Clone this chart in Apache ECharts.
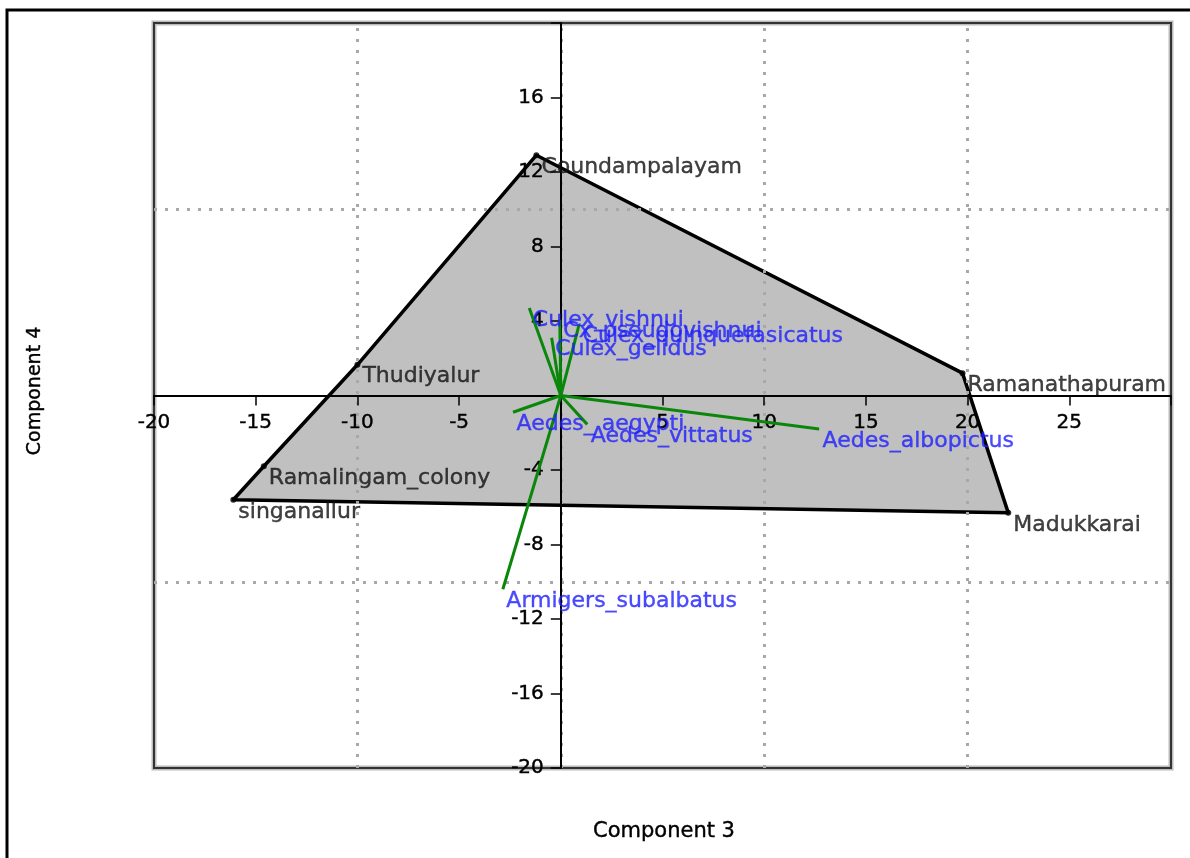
<!DOCTYPE html>
<html>
<head>
<meta charset="utf-8">
<script src="https://cdn.jsdelivr.net/npm/echarts@6/dist/echarts.min.js"></script>
<style>
html,body{margin:0;padding:0;background:#fff;}
#c{width:1190px;height:858px;}
</style>
</head>
<body>
<div id="c"></div>
<script>
// Sites (hull vertices, in drawing order)
const sites = ['Coundampalayam', 'Ramanathapuram', 'Madukkarai', 'singanallur', 'Ramalingam_colony', 'Thudiyalur'];
const siteX = [-1.2, 19.75, 22.0, -16.1, -14.6, -10.0];
const siteY = [12.9, 1.2, -6.3, -5.6, -3.8, 1.65];

// Species vectors (biplot arrows from origin)
const species = ['Culex_vishnui', 'Cx_pseudovishnui', 'Culex_quinquefasicatus', 'Culex_gelidus', 'Aedes_ aegypti', 'Aedes_vittatus', 'Aedes_albopictus', 'Armigers_subalbatus'];
const speciesX = [-1.55, -0.05, 0.9, -0.45, -2.35, 1.3, 12.7, -2.85];
const speciesY = [4.7, 4.07, 3.8, 3.1, -0.9, -1.55, -1.8, -10.4];

// Axis tick labels shown
const xTickLabels = [-20, -15, -10, -5, 5, 10, 15, 20, 25];
const yTickLabels = [16, 12, 8, 4, -4, -8, -12, -16, -20];
// Dotted grid lines
const xGridLines = [-10, 0, 10, 20];
const yGridLines = [-10, 10];

const X_MIN = -20, X_MAX = 30, Y_MIN = -20, Y_MAX = 20;
const GRID = {left: 154, right: 19, top: 23, bottom: 90};
const W = 1190, H = 858;
const gridW = W - GRID.left - GRID.right;
const gridH = H - GRID.top - GRID.bottom;
// place the axes through the origin (pixel offset from the grid edge)
const xAxisOffset = -((0 - Y_MIN) / (Y_MAX - Y_MIN)) * gridH;
const yAxisOffset = -((0 - X_MIN) / (X_MAX - X_MIN)) * gridW;

const FONT = 'DejaVu Sans';
const chart = echarts.init(document.getElementById('c'), null, {renderer: 'canvas'});

const lineSeries = species.map((s, i) => ({
  type: 'line',
  name: s,
  data: [[0, 0], [speciesX[i], speciesY[i]]],
  symbol: 'none',
  z: 4,
  silent: true,
  lineStyle: {color: '#0a870a', width: 3},
  animation: false
}));

const option = {
  animation: false,
  textStyle: {fontFamily: FONT},
  grid: Object.assign({show: true, borderColor: '#333', borderWidth: 2, backgroundColor: 'transparent'}, GRID),
  xAxis: {
    type: 'value', min: X_MIN, max: X_MAX, interval: 5, z: 3,
    position: 'bottom', offset: xAxisOffset,
    axisLine: {onZero: false, lineStyle: {color: '#000', width: 2}},
    axisTick: {show: true, length: 10, lineStyle: {color: '#000', width: 1.5}},
    axisLabel: {
      margin: 17, fontSize: 20, color: '#000', fontFamily: FONT,
      textBorderColor: '#000', textBorderWidth: 0.4,
      formatter: v => xTickLabels.includes(v) ? String(v) : ''
    },
    splitLine: {show: false}
  },
  yAxis: {
    type: 'value', min: Y_MIN, max: Y_MAX, interval: 4, z: 3,
    position: 'left', offset: yAxisOffset,
    axisLine: {onZero: false, lineStyle: {color: '#000', width: 2}},
    axisTick: {show: true, length: 10, lineStyle: {color: '#000', width: 1.5}},
    axisLabel: {
      margin: 17, fontSize: 20, color: '#000', fontFamily: FONT,
      textBorderColor: '#000', textBorderWidth: 0.4,
      formatter: v => yTickLabels.includes(v) ? String(v) : ''
    },
    splitLine: {show: false}
  },
  graphic: [
    {type: 'rect', z: -10, shape: {x: 7, y: 10, width: 1400, height: 1000}, style: {fill: 'none', stroke: '#000', lineWidth: 3}},
    {type: 'rect', z: -9, shape: {x: 154, y: 23, width: 1017, height: 745}, style: {fill: 'none', stroke: '#bbb', lineWidth: 5}},
    {type: 'text', z: 10, x: 664, y: 832, style: {text: 'Component 3', font: '21px "DejaVu Sans"', fill: '#000', stroke: '#000', lineWidth: 0.4, align: 'center', verticalAlign: 'middle'}},
    {type: 'text', z: 10, x: 35, y: 391, rotation: Math.PI / 2, style: {text: 'Component 4', font: '19px "DejaVu Sans"', fill: '#000', stroke: '#000', lineWidth: 0.4, align: 'center', verticalAlign: 'middle'}}
  ],
  series: [
    {
      type: 'custom',
      z: 1,
      silent: true,
      data: [[0, 0]],
      renderItem: (params, api) => {
        const pts = siteX.map((x, i) => api.coord([x, siteY[i]]));
        return {
          type: 'polygon',
          shape: {points: pts},
          style: {fill: '#c0c0c0', stroke: '#000', lineWidth: 3.5, lineJoin: 'round'}
        };
      },
      markLine: {
        z: 2,
        silent: true,
        symbol: ['none', 'none'],
        label: {show: false},
        lineStyle: {color: '#a8a8a8', width: 3, type: [3, 8]},
        data: xGridLines.map(v => ({xAxis: v})).concat(yGridLines.map(v => ({yAxis: v})))
      }
    },
    ...lineSeries,
    {
      type: 'scatter',
      z: 5,
      silent: true,
      symbol: 'circle',
      symbolSize: 6,
      itemStyle: {color: '#000'},
      data: sites.map((s, i) => ({name: s, value: [siteX[i], siteY[i]]})),
      label: {show: true, formatter: '{b}', position: 'right', distance: 2, offset: [0, 12], color: '#111', textBorderColor: '#111', textBorderWidth: 0.4, fontSize: 22, fontFamily: FONT}
    },
    {
      type: 'scatter',
      z: 6,
      silent: true,
      symbol: 'circle',
      symbolSize: 1,
      itemStyle: {color: 'rgba(0,0,0,0)'},
      data: species.map((s, i) => ({name: s, value: [speciesX[i], speciesY[i]]})),
      label: {show: true, formatter: '{b}', position: 'right', distance: 3, offset: [0, 12], color: '#1f1fff', textBorderColor: '#1f1fff', textBorderWidth: 0.4, fontSize: 22, fontFamily: FONT}
    }
  ]
};
chart.setOption(option);
</script>
</body>
</html>
